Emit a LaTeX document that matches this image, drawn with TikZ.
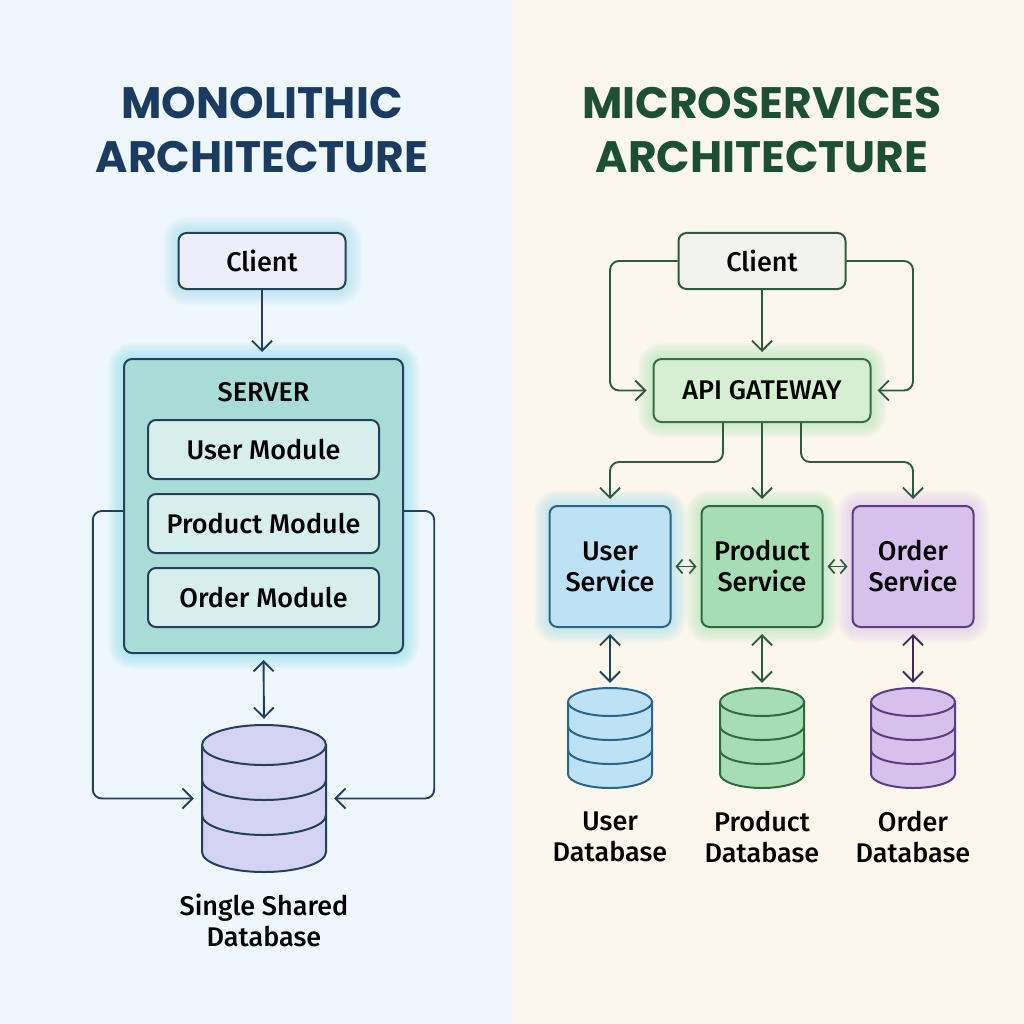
\documentclass[tikz,border=0pt]{standalone}
\usepackage{fontspec}
\setmainfont{Fira Sans}[UprightFont={* Medium}]
\newfontfamily\titlefont{Poppins}
\usetikzlibrary{arrows.meta}
\definecolor{lbg}{HTML}{EEF7FB}
\definecolor{rbg}{HTML}{FBF7EC}
\definecolor{navy}{HTML}{1B3B61}
\definecolor{lline}{HTML}{24405C}
\definecolor{gtitle}{HTML}{1D5031}
\definecolor{gline}{HTML}{2F5A3C}
\definecolor{lclientfill}{HTML}{EDEEF9}
\definecolor{serverfill}{HTML}{A9DCD6}
\definecolor{modfill}{HTML}{D6EFEC}
\definecolor{ldbfill}{HTML}{D5D3F3}
\definecolor{rclientfill}{HTML}{F2F2EF}
\definecolor{gwfill}{HTML}{D6EED2}
\definecolor{gwline}{HTML}{35704A}
\definecolor{ufill}{HTML}{BDE2F6}
\definecolor{uline}{HTML}{2C6585}
\definecolor{pfill}{HTML}{A6DDB2}
\definecolor{pline}{HTML}{2F6B42}
\definecolor{ofill}{HTML}{D6C1EC}
\definecolor{oline}{HTML}{5B3D80}
\definecolor{glowblue}{HTML}{A8E0F2}
\definecolor{glowcyan}{HTML}{8FE0EE}
\definecolor{glowgreen}{HTML}{B0E6BA}
\definecolor{glowpurple}{HTML}{DCC8F2}
\pgfdeclarelayer{back}
\pgfdeclarelayer{glowl}
\pgfsetlayers{back,glowl,main}
\newcommand\myglow[2]{%
  \begin{pgfonlayer}{glowl}
  \foreach \w in {3,6,...,30}{%
    \draw[#2, opacity=0.08, line width=\w pt, rounded corners=9pt] (#1.south west) rectangle (#1.north east);}
  \end{pgfonlayer}}
\newcommand\mydb[8]{%
  \path[fill=#7, draw=#8, line width=2pt] (#2-#4,#3) -- (#2-#4,#3+#6) arc[start angle=180, end angle=360, x radius=#4pt, y radius=#5pt] -- (#2+#4,#3) -- cycle;
  \path[fill=#7, draw=#8, line width=2pt] (#2,#3) ellipse[x radius=#4pt, y radius=#5pt];
  \node[minimum width=2*#4 pt, minimum height=#6pt+2*#5pt, inner sep=0pt] (#1) at (#2,#3+#6/2) {};
}
\newcommand\myband[5]{%
  \draw[#5, line width=2pt] (#1-#3,#2) arc[start angle=180, end angle=360, x radius=#3pt, y radius=#4pt];}
\tikzset{
  bodytext/.style={font=\fontsize{27}{31}\selectfont, text=black},
  box/.style={rounded corners=8pt, line width=2pt, inner sep=0pt, bodytext},
  tipbig/.tip={Straight Barb[length=10pt,width=20pt]},
  tipsmall/.tip={Straight Barb[length=6pt,width=14pt]},
  larr/.style={draw=lline, line width=1.9pt, -tipbig},
  larrs/.style={draw=lline, line width=1.9pt, tipbig-tipbig},
  garr/.style={draw=gline, line width=1.9pt, -tipbig},
  garrs/.style={draw=gline, line width=1.9pt, tipbig-tipbig},
  garrsmall/.style={draw=gline, line width=1.7pt, tipsmall-tipsmall},
  titletext/.style={font=\titlefont\bfseries\fontsize{44}{54}\selectfont, align=center},
  lbl/.style={bodytext, align=center},
}
\begin{document}
\begin{tikzpicture}[x=1pt, y=-1pt]
\begin{pgfonlayer}{back}
  \fill[lbg] (0,0) rectangle (512,1024);
  \fill[rbg] (512,0) rectangle (1024,1024);
\end{pgfonlayer}
\useasboundingbox (0,0) rectangle (1024,1024);

% titles
\node[titletext, text=navy] (ltitle) at (262,130) {MONOLITHIC\\ARCHITECTURE};
\node[titletext, text=gtitle] (rtitle) at (762,130) {MICROSERVICES\\ARCHITECTURE};

% ---------- left: monolithic ----------
\node[box, draw=lline, fill=lclientfill, minimum width=167pt, minimum height=56pt] (lclient) at (262,261) {Client};
\node[box, draw=lline, fill=serverfill, minimum width=279pt, minimum height=294pt] (server) at (263.5,506) {};
\node[bodytext] (srvlabel) at (263.5,392) {SERVER};
\node[box, draw=lline, fill=modfill, minimum width=231pt, minimum height=59pt] (umod) at (263.5,449.5) {User Module};
\node[box, draw=lline, fill=modfill, minimum width=231pt, minimum height=59pt] (pmod) at (263.5,523.5) {Product Module};
\node[box, draw=lline, fill=modfill, minimum width=231pt, minimum height=59pt] (omod) at (263.5,597.5) {Order Module};
\myglow{lclient}{glowblue}
\myglow{server}{glowcyan}

\mydb{ldb}{264}{745}{62}{20}{107}{ldbfill}{lline}
\myband{264}{780}{62}{20}{lline}
\myband{264}{815}{62}{20}{lline}
\node[lbl] (ldblabel) at (264,920) {Single Shared\\Database};

\draw[larr, shorten >=6pt] (lclient.south) -- (lclient.south |- server.north);
\draw[larrs, shorten <=6pt, shorten >=6pt] (server.south) -- (ldb.north);
\draw[larr, rounded corners=9pt, shorten >=8pt] ([yshift=-5pt]server.west) -| ([xshift=-109pt]ldb.west) -- (ldb.west);
\draw[larr, rounded corners=9pt, shorten >=8pt] ([yshift=-5pt]server.east) -| ([xshift=108pt]ldb.east) -- (ldb.east);

% ---------- right: microservices ----------
\node[box, draw=gline, fill=rclientfill, minimum width=167pt, minimum height=56pt] (rclient) at (762,261) {Client};
\node[box, draw=gwline, fill=gwfill, minimum width=217pt, minimum height=63pt] (gateway) at (762,390.5) {API GATEWAY};
\node[box, draw=uline, fill=ufill, minimum width=121pt, minimum height=121pt, align=center] (usvc) at (610,566.5) {User\\Service};
\node[box, draw=pline, fill=pfill, minimum width=121pt, minimum height=121pt, align=center] (psvc) at (762,566.5) {Product\\Service};
\node[box, draw=oline, fill=ofill, minimum width=121pt, minimum height=121pt, align=center] (osvc) at (913,566.5) {Order\\Service};
\myglow{usvc}{glowblue}
\myglow{psvc}{glowgreen}
\myglow{osvc}{glowpurple}
\myglow{gateway}{glowgreen}

\mydb{udb}{610}{702}{42}{14}{72}{ufill}{uline}
\myband{610}{726}{42}{14}{uline}
\myband{610}{750}{42}{14}{uline}
\mydb{pdb}{762}{702}{42}{14}{72}{pfill}{pline}
\myband{762}{726}{42}{14}{pline}
\myband{762}{750}{42}{14}{pline}
\mydb{odb}{913}{702}{42}{14}{72}{ofill}{oline}
\myband{913}{726}{42}{14}{oline}
\myband{913}{750}{42}{14}{oline}

\node[lbl] (udblabel) at (610,836.5) {User\\Database};
\node[lbl] (pdblabel) at (762,836.5) {Product\\Database};
\node[lbl] (odblabel) at (913,836.5) {Order\\Database};

\draw[garr, shorten >=6pt] (rclient.south) -- (gateway.north);
\draw[garr, rounded corners=9pt, shorten >=6pt] (rclient.west) -| (usvc.north |- gateway.west) -- (gateway.west);
\draw[garr, rounded corners=9pt, shorten >=6pt] (rclient.east) -| (osvc.north |- gateway.east) -- (gateway.east);
\draw[garr, rounded corners=9pt, shorten >=6pt] ([xshift=-39pt]gateway.south) |- ([yshift=43pt]usvc.north) -- (usvc.north);
\draw[garr, shorten >=6pt] (gateway.south) -- (psvc.north);
\draw[garr, rounded corners=9pt, shorten >=6pt] ([xshift=39pt]gateway.south) |- ([yshift=43pt]osvc.north) -- (osvc.north);
\draw[garrsmall, shorten <=4pt, shorten >=4pt] (usvc.east) -- (psvc.west);
\draw[garrsmall, shorten <=4pt, shorten >=4pt] (psvc.east) -- (osvc.west);
\draw[garrs, draw=lline, shorten <=6pt, shorten >=5pt] (usvc.south) -- (udb.north);
\draw[garrs, shorten <=6pt, shorten >=5pt] (psvc.south) -- (pdb.north);
\draw[garrs, draw=oline!70!black, shorten <=6pt, shorten >=5pt] (osvc.south) -- (odb.north);
\end{tikzpicture}
\end{document}
